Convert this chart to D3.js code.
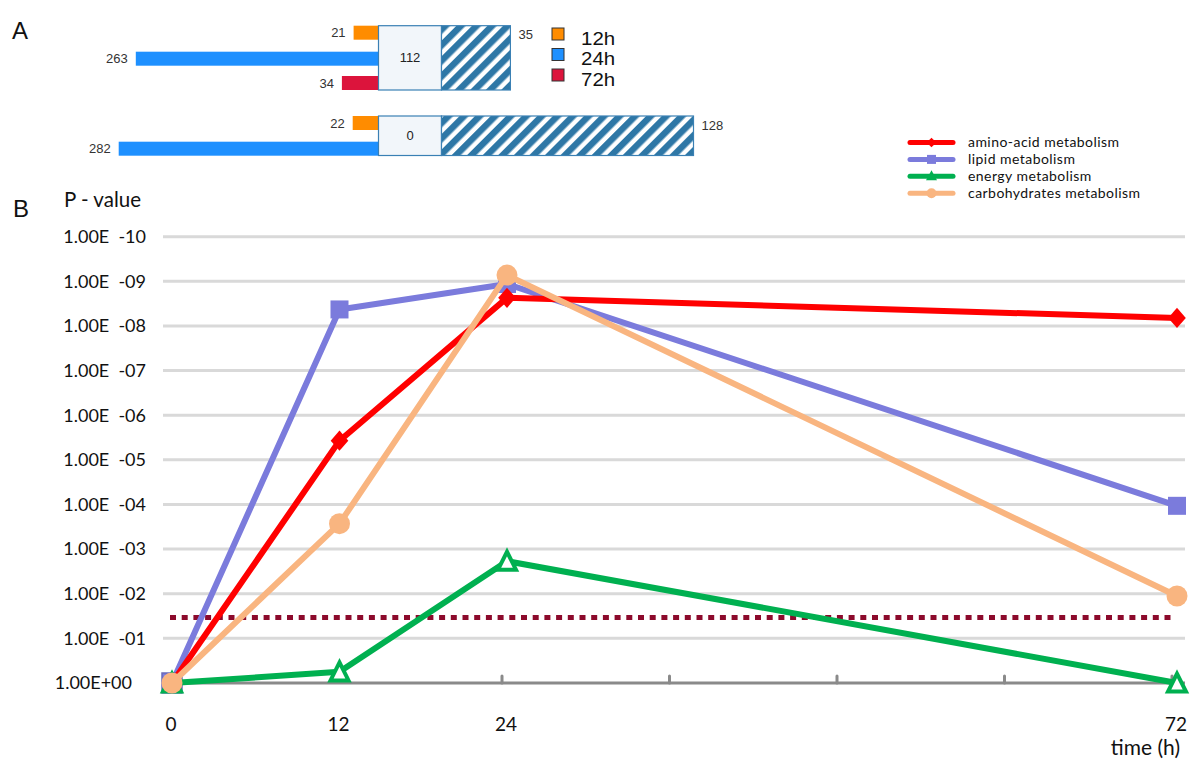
<!DOCTYPE html>
<html>
<head>
<meta charset="utf-8">
<script src="https://cdn.jsdelivr.net/npm/d3@7"></script>
<style>
  html, body { margin: 0; padding: 0; background: #fff; }
  svg { display: block; }
</style>
</head>
<body>
<svg id="chart"></svg>
<script>
// ---- panel A data ----
const timeLabels = ["12h", "24h", "72h"];
const timeColors = ["#ff8c00", "#1e90ff", "#dc143c"];
const row1Only = [21, 263, 34];
const row1Shared = 112;
const row1Extra = 35;
const row2Only = [22, 282];
const row2Shared = 0;
const row2Extra = 128;

// ---- panel B data (-log10 P) ----
const times = [0, 12, 24, 72];
const seriesNames = ["amino-acid metabolism", "lipid metabolism", "energy metabolism", "carbohydrates metabolism"];
const aminoAcid = [0, 5.43, 8.63, 8.18];
const lipid = [0, 8.37, 8.94, 3.97];
const energy = [0, 0.25, 2.73, 0];
const carbohydrates = [0, 3.57, 9.14, 1.95];
const threshold = 1.47;
const yTickLabels = ["1.00E+00", "1.00E  -01", "1.00E  -02", "1.00E  -03", "1.00E  -04", "1.00E  -05",
  "1.00E  -06", "1.00E  -07", "1.00E  -08", "1.00E  -09", "1.00E  -10"];
const xTickLabels = [0, 12, 24, 72];
const xMinorTicks = [24, 36, 48, 60, 72];

const width = 1200, height = 770;
const svg = d3.select("#chart").attr("width", width).attr("height", height);

const labelFont = "Lato, 'Open Sans', sans-serif";
const smallFont = "'Liberation Sans', Arial, sans-serif";

// panel letters
svg.append("text").attr("x", 12).attr("y", 39).text("A")
  .style("font-family", smallFont).style("font-size", "24px").attr("fill", "#111");
svg.append("text").attr("x", 13).attr("y", 217).text("B")
  .style("font-family", smallFont).style("font-size", "24px").attr("fill", "#111");

// ==============================
// PANEL A
// ==============================
const defs = svg.append("defs");
const hatch = defs.append("pattern")
  .attr("id", "hatch")
  .attr("patternUnits", "userSpaceOnUse")
  .attr("width", 11).attr("height", 11)
  .attr("patternTransform", "rotate(45)");
hatch.append("rect").attr("width", 11).attr("height", 11).attr("fill", "#fff");
hatch.append("rect").attr("width", 6.5).attr("height", 11).attr("fill", "#2e77a6");

const leftScale = d3.scaleLinear().domain([0, 282]).range([6, 259.8]);
const extraScale = d3.scaleLinear().domain([0, 128]).range([0, 252]);
const joinX = 378.5;
const sharedW = 63;
const barH = 14;

function drawRow(only, shared, extra, tops, boxTop, boxBottom) {
  const g = svg.append("g");
  g.selectAll("rect.only")
    .data(only)
    .enter()
    .append("rect")
    .attr("class", "only")
    .attr("x", d => joinX - leftScale(d))
    .attr("y", (d, i) => tops[i])
    .attr("width", d => leftScale(d))
    .attr("height", barH)
    .attr("fill", (d, i) => timeColors[i]);

  g.selectAll("text.only")
    .data(only)
    .enter()
    .append("text")
    .attr("class", "only")
    .attr("x", d => joinX - leftScale(d) - 8)
    .attr("y", (d, i) => tops[i] + barH / 2)
    .attr("dy", "0.35em")
    .attr("text-anchor", "end")
    .style("font-family", smallFont).style("font-size", "13px")
    .attr("fill", "#333")
    .text(d => d);

  g.append("rect")
    .attr("x", joinX).attr("y", boxTop)
    .attr("width", sharedW).attr("height", boxBottom - boxTop)
    .attr("fill", "#f2f6fa").attr("stroke", "#3a80b4").attr("stroke-width", 1.2);
  g.append("text")
    .attr("x", joinX + sharedW / 2).attr("y", (boxTop + boxBottom) / 2)
    .attr("dy", "0.35em").attr("text-anchor", "middle")
    .style("font-family", smallFont).style("font-size", "13px").attr("fill", "#222")
    .text(shared);

  g.append("rect")
    .attr("x", joinX + sharedW).attr("y", boxTop)
    .attr("width", extraScale(extra)).attr("height", boxBottom - boxTop)
    .attr("fill", "url(#hatch)").attr("stroke", "#3a80b4").attr("stroke-width", 1.2);
  return g;
}

drawRow(row1Only, row1Shared, row1Extra, [25.7, 51.7, 76], 25.7, 90);
svg.append("text")
  .attr("x", joinX + sharedW + extraScale(row1Extra) + 8).attr("y", 34)
  .attr("dy", "0.35em")
  .style("font-family", smallFont).style("font-size", "13px").attr("fill", "#333")
  .text(row1Extra);

drawRow(row2Only, row2Shared, row2Extra, [116, 141.7], 116, 155.5);
svg.append("text")
  .attr("x", joinX + sharedW + extraScale(row2Extra) + 8).attr("y", 125)
  .attr("dy", "0.35em")
  .style("font-family", smallFont).style("font-size", "13px").attr("fill", "#333")
  .text(row2Extra);

// legend A
const legA = svg.append("g").attr("transform", "translate(552,28)");
legA.selectAll("rect")
  .data(timeLabels)
  .enter()
  .append("rect")
  .attr("x", 0).attr("y", (d, i) => i * 20.5)
  .attr("width", 12).attr("height", 12)
  .attr("fill", (d, i) => timeColors[i])
  .attr("stroke", "#333").attr("stroke-width", 1);
legA.append("g")
  .attr("transform", "translate(29,0) scale(1.17,1)")
  .selectAll("text")
  .data(timeLabels)
  .enter()
  .append("text")
  .attr("x", 0).attr("y", (d, i) => i * 20.5 + 17)
  .style("font-family", smallFont).style("font-size", "17.5px").attr("fill", "#111")
  .text(d => d);

// ==============================
// PANEL B
// ==============================
const x = d3.scaleLinear().domain([0, 72]).range([172, 1177]);
const y = d3.scaleLinear().domain([0, 10]).range([683, 236.7]);
const gridLeft = 163, gridRight = 1185;

// gridlines
svg.append("g").selectAll("line")
  .data(d3.range(1, 11))
  .enter()
  .append("line")
  .attr("x1", gridLeft).attr("x2", gridRight)
  .attr("y1", d => y(d)).attr("y2", d => y(d))
  .attr("stroke", "#d9d9d9").attr("stroke-width", 3);

// y labels
svg.append("g").selectAll("text")
  .data(yTickLabels)
  .enter()
  .append("text")
  .attr("x", (d, i) => i === 0 ? 132 : 146)
  .attr("y", (d, i) => y(i))
  .attr("dy", "0.35em")
  .attr("text-anchor", "end")
  .attr("xml:space", "preserve")
  .style("font-family", labelFont).style("font-size", "18px")
  .style("white-space", "pre")
  .attr("fill", "#111")
  .text(d => d);

svg.append("text").attr("x", 64).attr("y", 207)
  .style("font-family", labelFont).style("font-size", "20.5px").attr("fill", "#111")
  .text("P - value");

// x axis line and ticks
svg.append("line")
  .attr("x1", gridLeft).attr("x2", gridRight)
  .attr("y1", y(0)).attr("y2", y(0))
  .attr("stroke", "#8a8a8a").attr("stroke-width", 3);
svg.append("g").selectAll("line")
  .data(xMinorTicks)
  .enter()
  .append("line")
  .attr("x1", d => x(d) - 5).attr("x2", d => x(d) - 5)
  .attr("y1", y(0)).attr("y2", y(0) - 7)
  .attr("stroke", "#8a8a8a").attr("stroke-width", 3)
  .attr("stroke-linecap", "round");

svg.append("g").selectAll("text")
  .data(xTickLabels)
  .enter()
  .append("text")
  .attr("x", d => x(d) - 1)
  .attr("y", 731)
  .attr("text-anchor", "middle")
  .style("font-family", labelFont).style("font-size", "19px").attr("fill", "#111")
  .text(d => d);
svg.append("text").attr("x", 1180).attr("y", 755).attr("text-anchor", "end")
  .style("font-family", labelFont).style("font-size", "21px").attr("fill", "#111")
  .text("time (h)");

// threshold
svg.append("line")
  .attr("x1", 170).attr("x2", 1172)
  .attr("y1", y(threshold)).attr("y2", y(threshold))
  .attr("stroke", "#8c0a2c").attr("stroke-width", 5)
  .attr("stroke-dasharray", "6,5.7");

// series
const series = [
  { name: seriesNames[1], values: lipid, color: "#7b7bdc", marker: "square" },
  { name: seriesNames[0], values: aminoAcid, color: "#ff0000", marker: "diamond" },
  { name: seriesNames[2], values: energy, color: "#00b050", marker: "triangle" },
  { name: seriesNames[3], values: carbohydrates, color: "#f9b580", marker: "circle" }
];

const line = d3.line().x((d, i) => x(times[i])).y(d => y(d));

function drawMarker(g, kind, color, cx, cy, size, hollow) {
  if (kind === "square") {
    g.append("rect").attr("x", cx - size / 2).attr("y", cy - size / 2)
      .attr("width", size).attr("height", size).attr("fill", color);
  } else if (kind === "diamond") {
    g.append("path")
      .attr("d", d3.symbol().type(d3.symbolDiamond2).size(size * size * 0.55)())
      .attr("transform", `translate(${cx},${cy}) scale(1,1.15)`)
      .attr("fill", color);
  } else if (kind === "circle") {
    g.append("circle").attr("cx", cx).attr("cy", cy).attr("r", size / 2).attr("fill", color);
  } else if (kind === "triangle") {
    const h = size * 0.95, w = size;
    g.append("path")
      .attr("d", `M${cx},${cy - h * 0.55} L${cx + w / 2},${cy + h * 0.5} L${cx - w / 2},${cy + h * 0.5} Z`)
      .attr("fill", hollow ? "#fff" : color)
      .attr("stroke", color).attr("stroke-width", hollow ? 4 : 0)
      .attr("stroke-linejoin", "miter");
  }
}

const sizes = { square: 18, diamond: 19, circle: 21, triangle: 18 };

series.forEach(s => {
  const g = svg.append("g");
  g.append("path")
    .attr("d", line(s.values))
    .attr("fill", "none")
    .attr("stroke", s.color)
    .attr("stroke-width", 6)
    .attr("stroke-linejoin", "round");
  s.values.forEach((v, i) => {
    if (s.marker === "square" && i === 0) {
      g.append("rect").attr("x", x(times[i]) - 10).attr("y", y(v) - 10)
        .attr("width", 20).attr("height", 20)
        .attr("fill", s.color).attr("stroke", "#6a6ab8").attr("stroke-width", 1.5);
    } else {
      drawMarker(g, s.marker, s.color, x(times[i]), y(v), sizes[s.marker], true);
    }
  });
});

// legend B
const legendOrder = [1, 0, 2, 3].map(i => series[i]);
const legB = svg.append("g").attr("transform", "translate(910,142.5)");
legendOrder.forEach((s, i) => {
  const yy = i * 16.9;
  legB.append("line").attr("x1", 0).attr("x2", 43).attr("y1", yy).attr("y2", yy)
    .attr("stroke", s.color).attr("stroke-width", 5).attr("stroke-linecap", "round");
  const mg = legB.append("g");
  if (s.marker === "square") {
    mg.append("rect").attr("x", 17).attr("y", yy - 4.5).attr("width", 9).attr("height", 9).attr("fill", s.color);
  } else if (s.marker === "diamond") {
    mg.append("path").attr("d", d3.symbol().type(d3.symbolDiamond2).size(60)())
      .attr("transform", `translate(21.5,${yy})`).attr("fill", s.color);
  } else if (s.marker === "circle") {
    mg.append("circle").attr("cx", 21.5).attr("cy", yy).attr("r", 5).attr("fill", s.color);
  } else {
    mg.append("path").attr("d", `M21.5,${yy - 6} L27,${yy + 4} L16,${yy + 4} Z`).attr("fill", s.color);
  }
  legB.append("text").attr("x", 58).attr("y", yy).attr("dy", "0.35em")
    .style("font-family", labelFont).style("font-size", "14px")
    .style("letter-spacing", "0.45px").attr("fill", "#111")
    .text(s.name);
});
</script>
</body>
</html>
